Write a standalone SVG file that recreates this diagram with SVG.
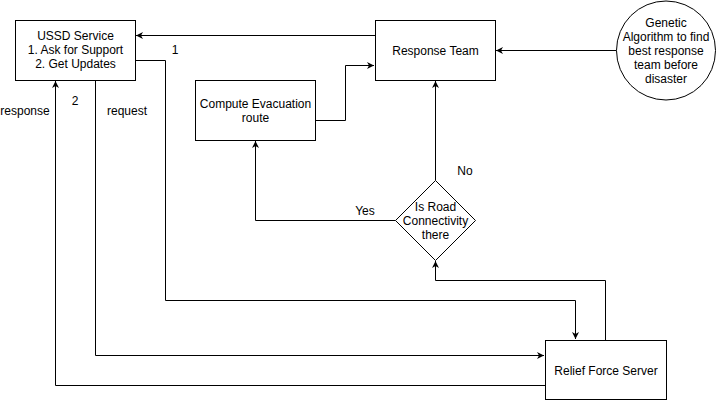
<svg xmlns="http://www.w3.org/2000/svg" width="716" height="401" viewBox="0 0 716 401">
<style>
.box{fill:#fff;stroke:#000;stroke-width:1}
.t{font-family:"Liberation Sans",Arial,sans-serif;font-size:12px;fill:#000;text-anchor:middle}
.c{fill:none;stroke:#000;stroke-width:1}
</style>
<defs>
<marker id="ah" markerWidth="8" markerHeight="8" refX="7" refY="4" orient="auto" markerUnits="userSpaceOnUse">
<path d="M0,0.5 L7,4 L0,7.5 L2,4 Z" fill="#000"/>
</marker>
</defs>
<rect width="716" height="401" fill="#fff"/>
<g id="connectors">
<path class="c" d="M375.5,35.5 H136" marker-end="url(#ah)"/>
<path class="c" d="M135.5,60.5 H165.5 V300.5 H575.5 V339" marker-end="url(#ah)"/>
<path class="c" d="M95.5,80.5 V355.5 H544" marker-end="url(#ah)"/>
<path class="c" d="M545.5,385.5 H55.5 V81" marker-end="url(#ah)"/>
<path class="c" d="M605.5,340.5 V280.5 H435.5 V261" marker-end="url(#ah)"/>
<path class="c" d="M315.5,120.5 H345.5 V65.5 H374" marker-end="url(#ah)"/>
<path class="c" d="M435.5,180.5 V81" marker-end="url(#ah)"/>
<path class="c" d="M395.5,220.5 H255.5 V141" marker-end="url(#ah)"/>
<path class="c" d="M616.5,50.5 H496" marker-end="url(#ah)"/>
<text class="t" x="175" y="54">1</text>
<text class="t" x="75" y="105">2</text>
<text class="t" x="25" y="115">response</text>
<text class="t" x="127" y="115">request</text>
<text class="t" x="365" y="215">Yes</text>
<text class="t" x="465" y="175">No</text>
</g>
<g id="ussd">
<rect class="box" x="15.5" y="20.5" width="120" height="60"/>
<text class="t" x="75.5" y="40">USSD Service</text>
<text class="t" x="75.5" y="54">1. Ask for Support</text>
<text class="t" x="75.5" y="68">2. Get Updates</text>
</g>
<g id="response-team">
<rect class="box" x="375.5" y="20.5" width="120" height="60"/>
<text class="t" x="435.5" y="55">Response Team</text>
</g>
<g id="compute-evac">
<rect class="box" x="195.5" y="80.5" width="120" height="60"/>
<text class="t" x="255.5" y="108">Compute Evacuation</text>
<text class="t" x="255.5" y="122">route</text>
</g>
<g id="road-decision">
<path class="box" d="M435.5,180.5 L475.5,220.5 L435.5,260.5 L395.5,220.5 Z"/>
<text class="t" x="435.5" y="211">Is Road</text>
<text class="t" x="435.5" y="225">Connectivity</text>
<text class="t" x="435.5" y="239">there</text>
</g>
<g id="genetic">
<circle class="box" cx="666" cy="50.5" r="49.5"/>
<text class="t" x="666" y="27">Genetic</text>
<text class="t" x="666" y="41">Algorithm to find</text>
<text class="t" x="666" y="55">best response</text>
<text class="t" x="666" y="69">team before</text>
<text class="t" x="666" y="83">disaster</text>
</g>
<g id="relief-server">
<rect class="box" x="545.5" y="340.5" width="121" height="59"/>
<text class="t" x="606" y="375">Relief Force Server</text>
</g>
</svg>
